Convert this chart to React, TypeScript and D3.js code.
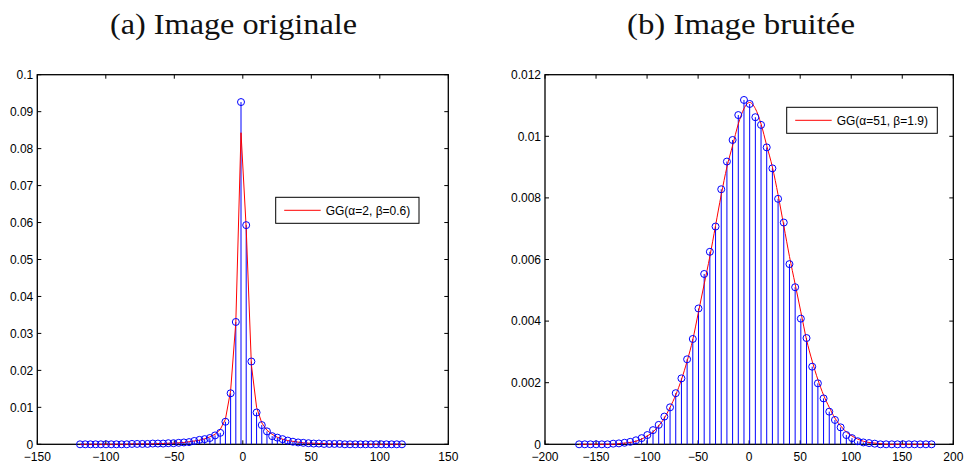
import React from "react";
import * as d3 from "d3";

// ---------- DATA ----------
// Panel (a): histogram of original image coefficients (63 bins)
const leftBinStart = -118.8;
const leftBinStep = 3.79;
const leftValues = [
  0, 0, 0, 0, 0, 0, 0, 0, 0, 0,
  0.0001, 0.0001, 0.0001, 0.0001, 0.0002, 0.0002, 0.0002, 0.0003, 0.0003, 0.0004,
  0.0005, 0.0006, 0.0009, 0.0012, 0.0014, 0.0017, 0.0024, 0.0031, 0.0061, 0.0138,
  0.0331, 0.0926, 0.0593, 0.0224, 0.0086, 0.0052, 0.0035, 0.0022, 0.0018, 0.0014,
  0.0010, 0.0007, 0.0005, 0.0004, 0.0003, 0.0002, 0.0002, 0.0001, 0.0001, 0.0001,
  0.0001, 0, 0, 0, 0, 0, 0, 0, 0, 0,
  0, 0, 0,
];
const leftFit = [
  0, 0, 0, 0, 0, 0, 0, 0, 0, 0,
  0.0001, 0.0001, 0.0001, 0.0001, 0.0001, 0.0002, 0.0002, 0.0003, 0.0003, 0.0004,
  0.0005, 0.0007, 0.0009, 0.0011, 0.0015, 0.0020, 0.0027, 0.0040, 0.0068, 0.0145,
  0.0330, 0.0843, 0.0585, 0.0215, 0.0100, 0.0058, 0.0038, 0.0027, 0.0019, 0.0014,
  0.0010, 0.0008, 0.0006, 0.0004, 0.0003, 0.0003, 0.0002, 0.0002, 0.0001, 0.0001,
  0.0001, 0.0001, 0.0001, 0.0001, 0, 0, 0, 0, 0, 0,
  0, 0, 0,
];
const leftLegend = "GG(\u03B1=2, \u03B2=0.6)";
const leftTitle = "(a) Image originale";
const leftXTicks = [-150, -100, -50, 0, 50, 100, 150];
const leftYTicks = [0, 0.01, 0.02, 0.03, 0.04, 0.05, 0.06, 0.07, 0.08, 0.09, 0.1];
const leftYTickLabels = ["0", "0.01", "0.02", "0.03", "0.04", "0.05", "0.06", "0.07", "0.08", "0.09", "0.1"];

// Panel (b): histogram of noisy image coefficients (63 bins)
const rightBinStart = -166.6;
const rightBinStep = 5.57;
const rightValues = [
  0, 0, 0, 0, 0, 0, 0.00002, 0.00003, 0.00005, 0.00008,
  0.00013, 0.0002, 0.0003, 0.00046, 0.00063, 0.0009, 0.0012, 0.00166, 0.00214, 0.00276,
  0.00342, 0.00441, 0.00553, 0.00625, 0.00707, 0.00828, 0.00918, 0.00988, 0.01069, 0.01118,
  0.01105, 0.01062, 0.01037, 0.00964, 0.00896, 0.00797, 0.0072, 0.00585, 0.0051, 0.00408,
  0.00345, 0.00252, 0.00198, 0.00149, 0.00106, 0.00079, 0.00055, 0.0003, 0.0002, 0.0001,
  0.00006, 0.00004, 0.00002, 0, 0, 0, 0, 0, 0, 0,
  0, 0, 0,
];
const rightFit = [
  0, 0, 0, 0, 0, 0, 0, 0.00002, 0.00004, 0.00006,
  0.0001, 0.00017, 0.00027, 0.0004, 0.0006, 0.00085, 0.0012, 0.0016, 0.0021, 0.0027,
  0.0034, 0.0043, 0.0052, 0.0061, 0.0071, 0.0081, 0.009, 0.0097, 0.0104, 0.0109,
  0.0111, 0.0109, 0.0104, 0.0097, 0.009, 0.0081, 0.0071, 0.0061, 0.0052, 0.0043,
  0.0034, 0.0027, 0.0021, 0.0016, 0.0012, 0.00085, 0.0006, 0.0004, 0.00027, 0.00017,
  0.0001, 0.00006, 0.00004, 0.00002, 0, 0, 0, 0, 0, 0,
  0, 0, 0,
];
const rightLegend = "GG(\u03B1=51, \u03B2=1.9)";
const rightTitle = "(b) Image bruit\u00E9e";
const rightXTicks = [-200, -150, -100, -50, 0, 50, 100, 150, 200];
const rightYTicks = [0, 0.002, 0.004, 0.006, 0.008, 0.01, 0.012];
const rightYTickLabels = ["0", "0.002", "0.004", "0.006", "0.008", "0.01", "0.012"];

// ---------- LAYOUT ----------
const W = 964;
const H = 468;
const TOP = 74.7;
const BOTTOM = 444.3;
const TICK = 4;
const FONT = "'Liberation Sans', Arial, Helvetica, sans-serif";
const BLUE = "#0000ff";
const RED = "#ff0000";

const fmtX = (v: number) => (v < 0 ? "\u2212" + Math.abs(v) : String(v));

type PanelProps = {
  x0: number;
  x1: number;
  xDomain: [number, number];
  yDomain: [number, number];
  xTicks: number[];
  yTicks: number[];
  yTickLabels: string[];
  binStart: number;
  binStep: number;
  values: number[];
  fit: number[];
  smooth: boolean;
  radius: number;
  title: string;
  titleX: number;
  titleW: number;
  legend: string;
  legendBox: { x: number; y: number; w: number; h: number };
};

function Panel(p: PanelProps) {
  const xs = d3.scaleLinear().domain(p.xDomain).range([p.x0, p.x1]);
  const ys = d3.scaleLinear().domain(p.yDomain).range([BOTTOM, TOP]);
  const centers = p.values.map((_, i) => p.binStart + i * p.binStep);
  const line = d3
    .line<number>()
    .x((_, i) => xs(centers[i]))
    .y((d) => ys(d))
    .curve(p.smooth ? d3.curveMonotoneX : d3.curveLinear);
  const lb = p.legendBox;
  return (
    <g>
      <text
        x={p.titleX - p.titleW / 2}
        y={34}
        textLength={p.titleW}
        lengthAdjust="spacingAndGlyphs"
        fontFamily="'Liberation Serif', 'Times New Roman', serif"
        fontSize={29}
        fill="#111"
      >
        {p.title}
      </text>
      <rect x={p.x0} y={TOP} width={p.x1 - p.x0} height={BOTTOM - TOP} fill="white" stroke="none" />
      {p.xTicks.map((t) => (
        <g key={"xt" + t}>
          <line x1={xs(t)} x2={xs(t)} y1={BOTTOM} y2={BOTTOM - TICK} stroke="#000" strokeWidth={1} />
          <line x1={xs(t)} x2={xs(t)} y1={TOP} y2={TOP + TICK} stroke="#000" strokeWidth={1} />
          <text x={xs(t)} y={BOTTOM + 17} textAnchor="middle" fontFamily={FONT} fontSize={12} fill="#000">
            {fmtX(t)}
          </text>
        </g>
      ))}
      {p.yTicks.map((t, i) => (
        <g key={"yt" + t}>
          <line x1={p.x0} x2={p.x0 + TICK} y1={ys(t)} y2={ys(t)} stroke="#000" strokeWidth={1} />
          <line x1={p.x1} x2={p.x1 - TICK} y1={ys(t)} y2={ys(t)} stroke="#000" strokeWidth={1} />
          <text
            x={p.x0 - 4}
            y={ys(t)}
            dy="0.35em"
            textAnchor="end"
            fontFamily={FONT}
            fontSize={12}
            fill="#000"
          >
            {p.yTickLabels[i]}
          </text>
        </g>
      ))}
      <rect
        x={p.x0}
        y={TOP}
        width={p.x1 - p.x0}
        height={BOTTOM - TOP}
        fill="none"
        stroke="#000"
        strokeWidth={1.3}
      />
      {p.values.map((v, i) => (
        <line
          key={"s" + i}
          x1={xs(centers[i])}
          x2={xs(centers[i])}
          y1={ys(0)}
          y2={ys(v)}
          stroke={BLUE}
          strokeWidth={1}
        />
      ))}
      <path d={line(p.fit) || ""} fill="none" stroke={RED} strokeWidth={1} />
      {p.values.map((v, i) => (
        <circle
          key={"c" + i}
          cx={xs(centers[i])}
          cy={ys(v)}
          r={p.radius}
          fill="none"
          stroke={BLUE}
          strokeWidth={1}
        />
      ))}
      <rect x={lb.x} y={lb.y} width={lb.w} height={lb.h} fill="white" stroke="#000" strokeWidth={1} />
      <line
        x1={lb.x + 8.5}
        x2={lb.x + 45}
        y1={lb.y + lb.h / 2}
        y2={lb.y + lb.h / 2}
        stroke={RED}
        strokeWidth={1}
      />
      <text x={lb.x + 50} y={lb.y + lb.h / 2} dy="0.35em" fontFamily={FONT} fontSize={12} fill="#000">
        {p.legend}
      </text>
    </g>
  );
}

export default function App() {
  return (
    <svg
      width={W}
      height={H}
      viewBox={`0 0 ${W} ${H}`}
      style={{ position: "absolute", left: 0, top: 0, background: "white" }}
    >
      <rect x={0} y={0} width={W} height={H} fill="white" />
      <Panel
        x0={37.3}
        x1={448.3}
        xDomain={[-150, 150]}
        yDomain={[0, 0.1]}
        xTicks={leftXTicks}
        yTicks={leftYTicks}
        yTickLabels={leftYTickLabels}
        binStart={leftBinStart}
        binStep={leftBinStep}
        values={leftValues}
        fit={leftFit}
        smooth={false}
        radius={3.5}
        title={leftTitle}
        titleX={233.5}
        titleW={247}
        legend={leftLegend}
        legendBox={{ x: 275.7, y: 197.3, w: 143.3, h: 26 }}
      />
      <Panel
        x0={545}
        x1={953.3}
        xDomain={[-200, 200]}
        yDomain={[0, 0.012]}
        xTicks={rightXTicks}
        yTicks={rightYTicks}
        yTickLabels={rightYTickLabels}
        binStart={rightBinStart}
        binStep={rightBinStep}
        values={rightValues}
        fit={rightFit}
        smooth={true}
        radius={3.5}
        title={rightTitle}
        titleX={741}
        titleW={228}
        legend={rightLegend}
        legendBox={{ x: 786.7, y: 107.3, w: 150.6, h: 26 }}
      />
    </svg>
  );
}
